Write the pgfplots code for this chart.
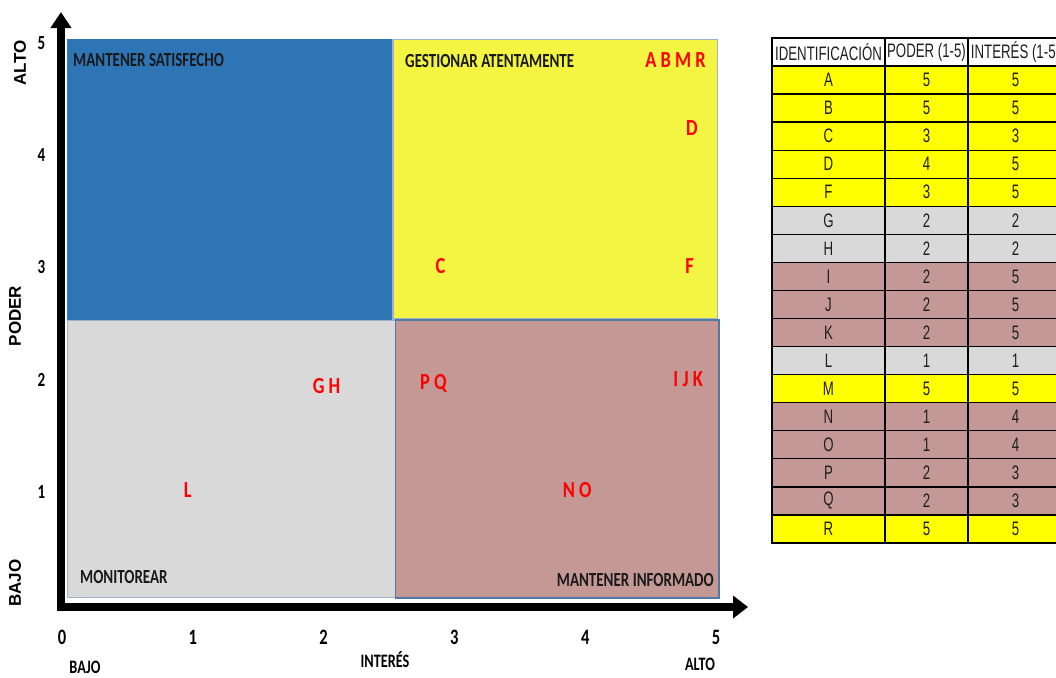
\documentclass[border=0pt]{standalone}
\usepackage{fontspec}
\setmainfont{Carlito}[FakeStretch=0.75]
\newfontfamily\markfont{Carlito}[FakeStretch=0.8]
\newfontfamily\tabfont{Liberation Sans}[FakeStretch=0.68]
\newfontfamily\sidefont{Liberation Sans}
\usepackage{pgfplots}
\pgfplotsset{compat=1.18}
\usetikzlibrary{arrows.meta}

\definecolor{qblue}{RGB}{46,117,182}
\definecolor{qyellow}{RGB}{243,245,66}
\definecolor{qgray}{RGB}{217,217,217}
\definecolor{qrose}{RGB}{196,152,149}
\definecolor{qedge}{RGB}{80,122,163}
\definecolor{qedgelight}{RGB}{160,178,202}
\definecolor{tyel}{RGB}{255,255,0}
\definecolor{tgray}{RGB}{217,217,217}
\definecolor{trose}{RGB}{196,152,150}

\pgfplotsset{
  letter/.style={draw=none, mark=none, nodes near coords,
    point meta=explicit symbolic,
    nodes near coords style={font=\markfont\bfseries\fontsize{23}{23}\selectfont,
      text=red, inner sep=0pt}},
}

\begin{document}
\begin{tikzpicture}[x=1pt,y=1pt]
\path[use as bounding box] (0,0) rectangle (1056,-677);

\begin{axis}[
  at={(62pt,-604pt)}, anchor=origin,
  x=130.8pt, y=112.2pt,
  xmin=-0.04, xmax=5.25, ymin=-0.07, ymax=5.28,
  axis lines=left, axis line style={draw=none},
  major tick length=0pt,
  xtick={0,...,5}, ytick={1,...,5},
  /pgf/number format/assume math mode=true,
  xticklabel style={font=\bfseries\fontsize{22}{22}\selectfont, yshift=-15pt},
  yticklabel style={font=\bfseries\fontsize{20}{20}\selectfont, xshift=-8pt},
  clip=false,
]
% quadrant areas
\addplot[fill=qblue, draw=qblue, line width=0.8pt]
  coordinates {(0.04,2.54) (2.53,2.54) (2.53,5.03) (0.04,5.03)} -- cycle;
\addplot[fill=qyellow, draw=qedgelight, line width=1.5pt]
  coordinates {(2.53,2.54) (5.01,2.54) (5.01,5.03) (2.53,5.03)} -- cycle;
\addplot[fill=qgray, draw=qedgelight, line width=1.2pt]
  coordinates {(0.04,0.06) (2.55,0.06) (2.55,2.53) (0.04,2.53)} -- cycle;
\addplot[fill=qrose, draw=qedge, line width=1.8pt]
  coordinates {(2.55,0.05) (5.02,0.05) (5.02,2.53) (2.55,2.53)} -- cycle;

% stakeholders placed at (interest, power)
\addplot[letter, nodes near coords style={anchor=east, xshift=-10pt, yshift=-17pt}]
  coordinates {(5,5) [A B M R]};
\addplot[letter, nodes near coords style={anchor=east, xshift=-18pt, yshift=27pt}]
  coordinates {(5,4) [D]};
\addplot[letter, nodes near coords style={anchor=east, xshift=-22pt, yshift=1pt}]
  coordinates {(5,3) [F]};
\addplot[letter, nodes near coords style={anchor=center, xshift=-14pt, yshift=1pt}]
  coordinates {(3,3) [C]};
\addplot[letter, nodes near coords style={anchor=center, xshift=3pt, yshift=-6pt}]
  coordinates {(2,2) [G H]};
\addplot[letter, nodes near coords style={anchor=center, xshift=-21pt, yshift=-4pt}]
  coordinates {(3,2) [P Q]};
\addplot[letter, nodes near coords style={anchor=east, xshift=-13pt, yshift=0pt}]
  coordinates {(5,2) [I J K]};
\addplot[letter, nodes near coords style={anchor=center, xshift=-5pt, yshift=2pt}]
  coordinates {(1,1) [L]};
\addplot[letter, nodes near coords style={anchor=center, xshift=-8pt, yshift=2pt}]
  coordinates {(4,1) [N O]};

% thick axes with arrow heads
\draw[line width=8pt, -{Triangle[length=15pt,width=22pt]}]
  (axis cs:-0.038,-0.027) -- (axis cs:5.245,-0.027);
\draw[line width=8pt, -{Triangle[length=16pt,width=20pt]}]
  (axis cs:-0.008,-0.062) -- (axis cs:-0.008,5.276);
\end{axis}

% quadrant names
\begin{scope}[every node/.style={font=\bfseries\fontsize{20}{20}\selectfont, text=black!90, inner sep=0pt}]
\node[anchor=west] at (73,-60) {MANTENER SATISFECHO};
\node[anchor=west] at (405,-61) {GESTIONAR ATENTAMENTE};
\node[anchor=west] at (80,-577) {MONITOREAR};
\node[anchor=east] at (714,-580) {MANTENER INFORMADO};
\end{scope}

% axis titles
\begin{scope}[every node/.style={font=\bfseries\fontsize{19}{19}\selectfont, inner sep=0pt}]
\node at (385,-660) {INTERÉS};
\node at (85,-667) {BAJO};
\node at (700,-664) {ALTO};
\end{scope}
\begin{scope}[every node/.style={font=\sidefont\bfseries\fontsize{17}{17}\selectfont, inner sep=0pt, rotate=90}]
\node at (20,-63) {ALTO};
\node at (15,-316) {PODER};
\node at (15,-583) {BAJO};
\end{scope}

% stakeholder table: row fills and entries
\begin{scope}[every node/.style={font=\tabfont\fontsize{19.5}{19.5}\selectfont, text=black!88, inner sep=0pt}]
\node at (828.5,-52) {IDENTIFICACIÓN};
\node at (926.5,-52) {PODER (1-5)};
\node at (1015.5,-52) {INTERÉS (1-5)};
\foreach \id/\pw/\it/\cl [count=\k] in {
  A/5/5/tyel, B/5/5/tyel, C/3/3/tyel, D/4/5/tyel, F/3/5/tyel,
  G/2/2/tgray, H/2/2/tgray, I/2/5/trose, J/2/5/trose, K/2/5/trose,
  L/1/1/tgray, M/5/5/tyel, N/1/4/trose, O/1/4/trose, P/2/3/trose,
  Q/2/3/trose, R/5/5/tyel}{
  \pgfmathsetmacro\ytop{-66-(\k-1)*28.06}
  \pgfmathsetmacro\ybot{-66-\k*28.06}
  \pgfmathsetmacro\ymid{-66-(\k-0.5)*28.06}
  \fill[\cl] (772,\ytop) rectangle (1063,\ybot);
  \node at (828.5,\ymid) {\id};
  \node at (926.5,\ymid) {\pw};
  \node at (1015.5,\ymid) {\it};
}
\end{scope}
% table grid
\foreach \k in {1,...,17}{
  \pgfmathsetmacro\yline{-66-\k*28.06}
  \draw[line width=1.3pt] (772,\yline) -- (1063,\yline);
}
\draw[line width=1.3pt] (772,-38) rectangle (1063,-543.0);
\draw[line width=1.3pt] (772,-66) -- (1063,-66);
\draw[line width=1.3pt] (885,-38) -- (885,-543.0);
\draw[line width=1.3pt] (968,-38) -- (968,-543.0);
\end{tikzpicture}
\end{document}
